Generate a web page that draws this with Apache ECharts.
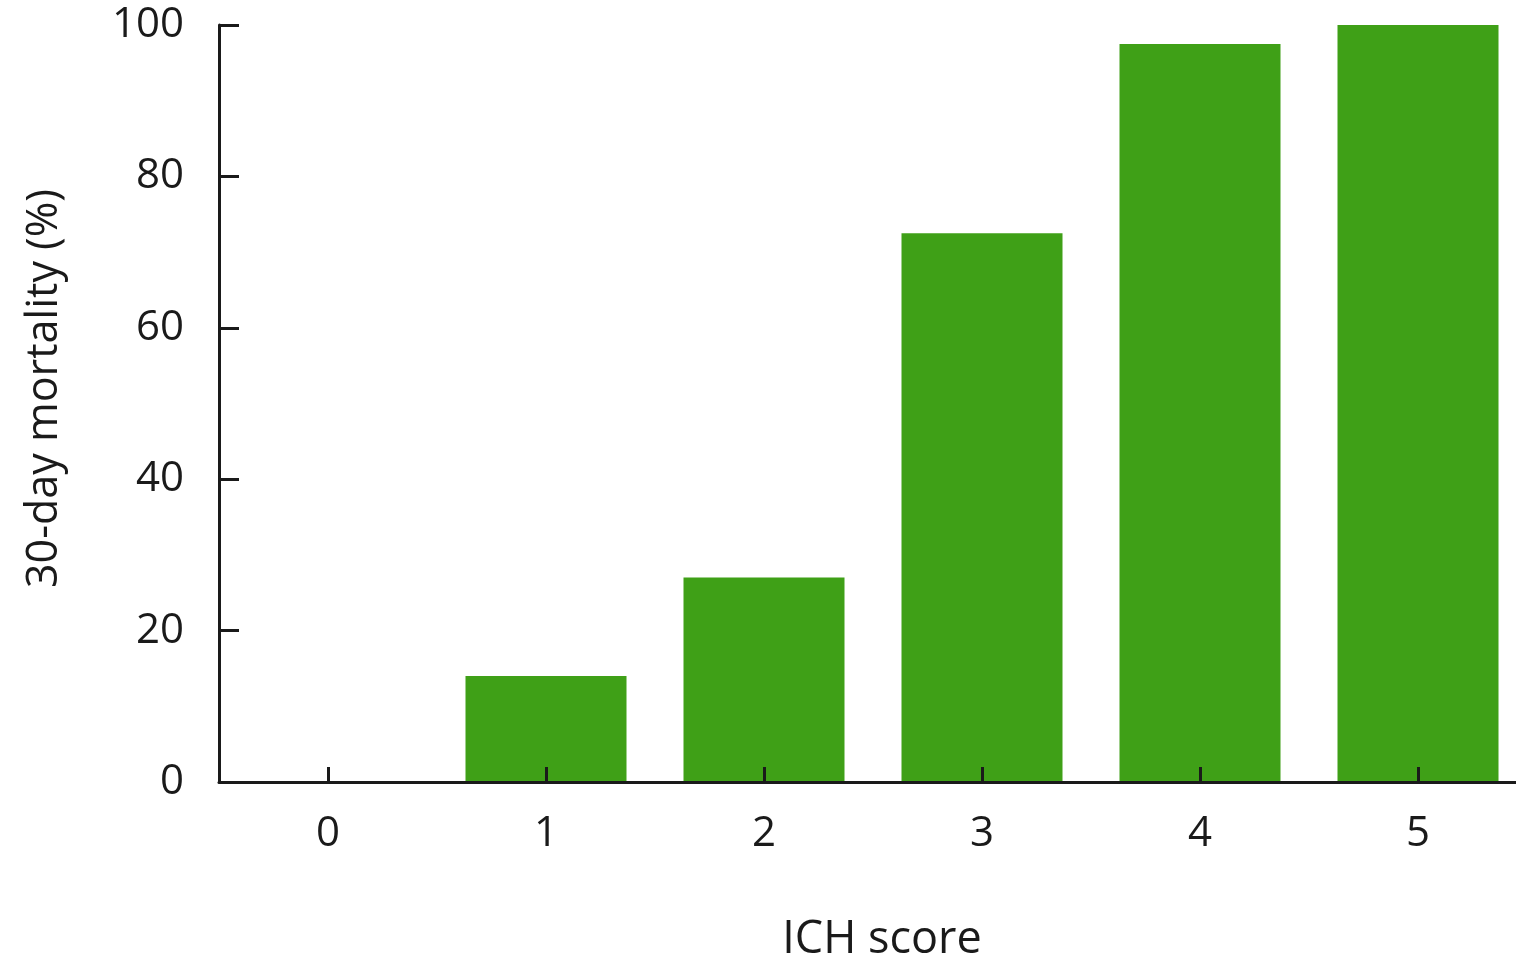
<!DOCTYPE html>
<html>
<head>
<meta charset="utf-8">
<script src="https://cdn.jsdelivr.net/npm/echarts@6/dist/echarts.min.js"></script>
<style>
html,body{margin:0;padding:0;background:#fff;}
#chart{width:1516px;height:958px;}
</style>
</head>
<body>
<div id="chart"></div>
<script>
const categories = ['0', '1', '2', '3', '4', '5'];
const mortality = [0, 14, 27, 72.5, 97.5, 100];
const yTicks = [0, 20, 40, 60, 80, 100];

const chart = echarts.init(document.getElementById('chart'));
const font = '"Open Sans", "Noto Sans", sans-serif';
chart.setOption({
  animation: false,
  backgroundColor: '#ffffff',
  grid: { left: 219, top: 25, width: 1308, height: 757, containLabel: false, outerBoundsMode: 'none' },
  xAxis: {
    type: 'category',
    data: categories,
    z: 10,
    name: 'ICH score',
    nameLocation: 'middle',
    nameGap: 136,
    nameTextStyle: { fontFamily: font, fontSize: 45, fontWeight: 500, color: '#1a1a1a', padding: [0, 0, 0, 18] },
    axisLine: { show: true, lineStyle: { color: '#1a1a1a', width: 3 } },
    axisTick: { show: true, inside: true, alignWithLabel: true, length: 15, lineStyle: { color: '#1a1a1a', width: 3 } },
    axisLabel: { fontFamily: font, fontSize: 42, fontWeight: 500, color: '#1a1a1a', margin: 31 },
    splitLine: { show: false }
  },
  yAxis: {
    type: 'value',
    z: 10,
    min: yTicks[0],
    max: yTicks[yTicks.length - 1],
    interval: yTicks[1] - yTicks[0],
    name: '30-day mortality (%)',
    nameLocation: 'middle',
    nameGap: 153,
    nameRotate: 90,
    nameTextStyle: { fontFamily: font, fontSize: 43, color: '#1a1a1a', padding: [0, 0, 0, 30] },
    axisLine: { show: true, lineStyle: { color: '#1a1a1a', width: 3 } },
    axisTick: { show: true, inside: true, length: 20, lineStyle: { color: '#1a1a1a', width: 3 } },
    axisLabel: { fontFamily: font, fontSize: 42, fontWeight: 500, color: '#1a1a1a', margin: 35 },
    splitLine: { show: false }
  },
  series: [{
    type: 'bar',
    data: mortality,
    barWidth: 161,
    itemStyle: { color: '#3fa017' },
    z: 1
  }]
});
</script>
</body>
</html>
